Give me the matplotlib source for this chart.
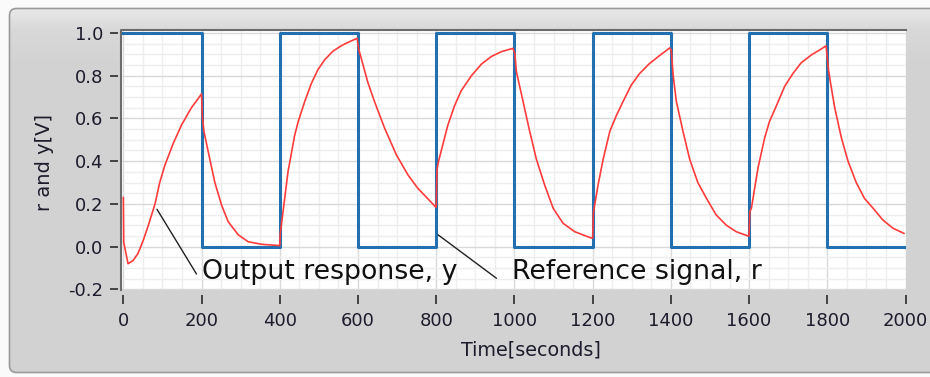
import numpy as np
import matplotlib
matplotlib.use("Agg")
import matplotlib.pyplot as plt
from matplotlib.patches import FancyBboxPatch
from matplotlib.ticker import MultipleLocator, FormatStrFormatter

plt.rcParams["font.family"] = ["DejaVu Sans"]
plt.rcParams["axes.unicode_minus"] = False

# reference signal r: level held from each switching time
ref_t = [0, 200, 400, 600, 800, 1000, 1200, 1400, 1600, 1800, 2000]
ref_r = [1, 0, 1, 0, 1, 0, 1, 0, 1, 0, 0]

# output response y [V]
out_t = [0, 1, 12, 25, 38, 51, 64, 81, 93, 106, 128, 149, 174, 196, 200,
         202, 206, 221, 234, 251, 268, 294, 319, 353, 399,
         400, 401, 404, 421, 438, 447, 464, 481, 498, 515, 536, 557, 579, 598,
         601, 625, 642, 668, 698, 728, 753, 798,
         800, 802, 806, 830, 847, 864, 890, 916, 941, 967, 996,
         1001, 1005, 1022, 1039, 1056, 1077, 1099, 1124, 1154, 1197,
         1200, 1202, 1214, 1227, 1244, 1261, 1278, 1299, 1320, 1346, 1371, 1397,
         1401, 1406, 1414, 1431, 1448, 1469, 1491, 1516, 1542, 1567, 1597,
         1600, 1602, 1606, 1623, 1640, 1652, 1670, 1691, 1712, 1733, 1759, 1780, 1797,
         1803, 1808, 1819, 1836, 1853, 1874, 1895, 1917, 1942, 1968, 1996]
out_y = [0.23, 0.02, -0.08, -0.065, -0.03, 0.03, 0.10, 0.20, 0.30, 0.38, 0.485, 0.57, 0.65, 0.705, 0.715,
         0.61, 0.54, 0.41, 0.30, 0.195, 0.117, 0.055, 0.023, 0.011, 0.005,
         0.005, 0.06, 0.10, 0.35, 0.52, 0.585, 0.68, 0.765, 0.83, 0.875, 0.915, 0.94, 0.96, 0.975,
         0.93, 0.77, 0.68, 0.555, 0.43, 0.335, 0.273, 0.187,
         0.185, 0.36, 0.40, 0.57, 0.66, 0.73, 0.80, 0.855, 0.89, 0.913, 0.928,
         0.905, 0.82, 0.68, 0.54, 0.41, 0.29, 0.18, 0.11, 0.07, 0.04,
         0.04, 0.16, 0.29, 0.41, 0.54, 0.615, 0.68, 0.757, 0.81, 0.858, 0.894, 0.93,
         0.92, 0.80, 0.68, 0.54, 0.41, 0.30, 0.226, 0.148, 0.10, 0.07, 0.05,
         0.05, 0.164, 0.18, 0.37, 0.51, 0.585, 0.66, 0.75, 0.81, 0.86, 0.897, 0.92, 0.94,
         0.83, 0.77, 0.65, 0.51, 0.40, 0.30, 0.226, 0.18, 0.125, 0.086, 0.062]

x_ticks = [0, 200, 400, 600, 800, 1000, 1200, 1400, 1600, 1800, 2000]

W, H = 930, 377
fig = plt.figure(figsize=(W / 100, H / 100), dpi=100)
fig.patch.set_facecolor("#fafafa")

# panel frame behind the graph
bg = fig.add_axes([0, 0, 1, 1])
bg.set_xlim(0, W)
bg.set_ylim(H, 0)
bg.axis("off")
rows = np.arange(H)
shade = np.interp(rows, [8, 30, 60, H], [233, 216, 211, 210]) / 255.0
grad = np.repeat(shade[:, None, None], 3, axis=2)
frame = FancyBboxPatch((9.5, 8.5), 960, 364, boxstyle="round,pad=0,rounding_size=7",
                       facecolor="none", edgecolor="#9a9a9a", linewidth=1.2)
bg.add_patch(frame)
img = bg.imshow(grad, extent=[0, W, H, 0], aspect="auto", zorder=0)
img.set_clip_path(frame)

ax = fig.add_axes([121 / W, 87 / H, 784.5 / W, 260 / H])
ax.set_facecolor("white")
ax.set_xlim(-6, 2000)
ax.set_ylim(-0.203, 1.014)

ax.xaxis.set_major_locator(MultipleLocator(200))
ax.xaxis.set_minor_locator(MultipleLocator(50))
ax.yaxis.set_major_locator(MultipleLocator(0.2))
ax.yaxis.set_minor_locator(MultipleLocator(0.05))
ax.yaxis.set_major_formatter(FormatStrFormatter("%.1f"))
ax.set_xticks(x_ticks)
ax.grid(which="minor", color="#eeeeee", linewidth=1.0)
ax.grid(which="major", color="#d9d9d9", linewidth=1.0)
ax.set_axisbelow(True)

for s in ax.spines.values():
    s.set_visible(False)
ax.spines["left"].set_position(("outward", 2))
ax.spines["bottom"].set_position(("outward", 3.6))
ax.plot([0, 0, 1], [0, 1, 1], transform=ax.transAxes, color="#6c6c6c",
        linewidth=1.5, clip_on=False, zorder=5)

ax.tick_params(which="minor", length=0)
ax.tick_params(axis="y", which="major", direction="out", length=6, width=1.2,
               color="#2a2a2a", pad=4.8, labelsize=13, labelcolor="#1c1c2c")
ax.tick_params(axis="x", which="major", direction="out", length=6.5, width=1.2,
               color="#2a2a2a", pad=5.5, labelsize=13, labelcolor="#1c1c2c")

ax.step(ref_t, ref_r, where="post", color="#2270b0", linewidth=2.2, zorder=3)
ax.plot(out_t, out_y, color="#ff3c3c", linewidth=1.2, zorder=4)

# callouts
ax.annotate("", xy=(86, 0.175), xytext=(187, -0.128),
            arrowprops=dict(arrowstyle="-", color="#202020", linewidth=1.0,
                            shrinkA=0, shrinkB=0))
ax.text(200, -0.151, "Output response, y", fontsize=19.3, color="#111111",
        ha="left", va="baseline")
ax.annotate("", xy=(805, 0.055), xytext=(954, -0.148),
            arrowprops=dict(arrowstyle="-", color="#202020", linewidth=1.0,
                            shrinkA=0, shrinkB=0))
ax.text(995, -0.151, "Reference signal, r", fontsize=19.3, color="#111111",
        ha="left", va="baseline")

fig.text(44 / W, 1 - 163 / H, "r and y[V]", rotation=90, ha="center", va="center",
         fontsize=14, color="#1c1c2c")
fig.text(531 / W, 1 - 356 / H, "Time[seconds]", ha="center", va="baseline",
         fontsize=13.8, color="#1c1c2c")

fig.savefig("out.png", dpi=100)
